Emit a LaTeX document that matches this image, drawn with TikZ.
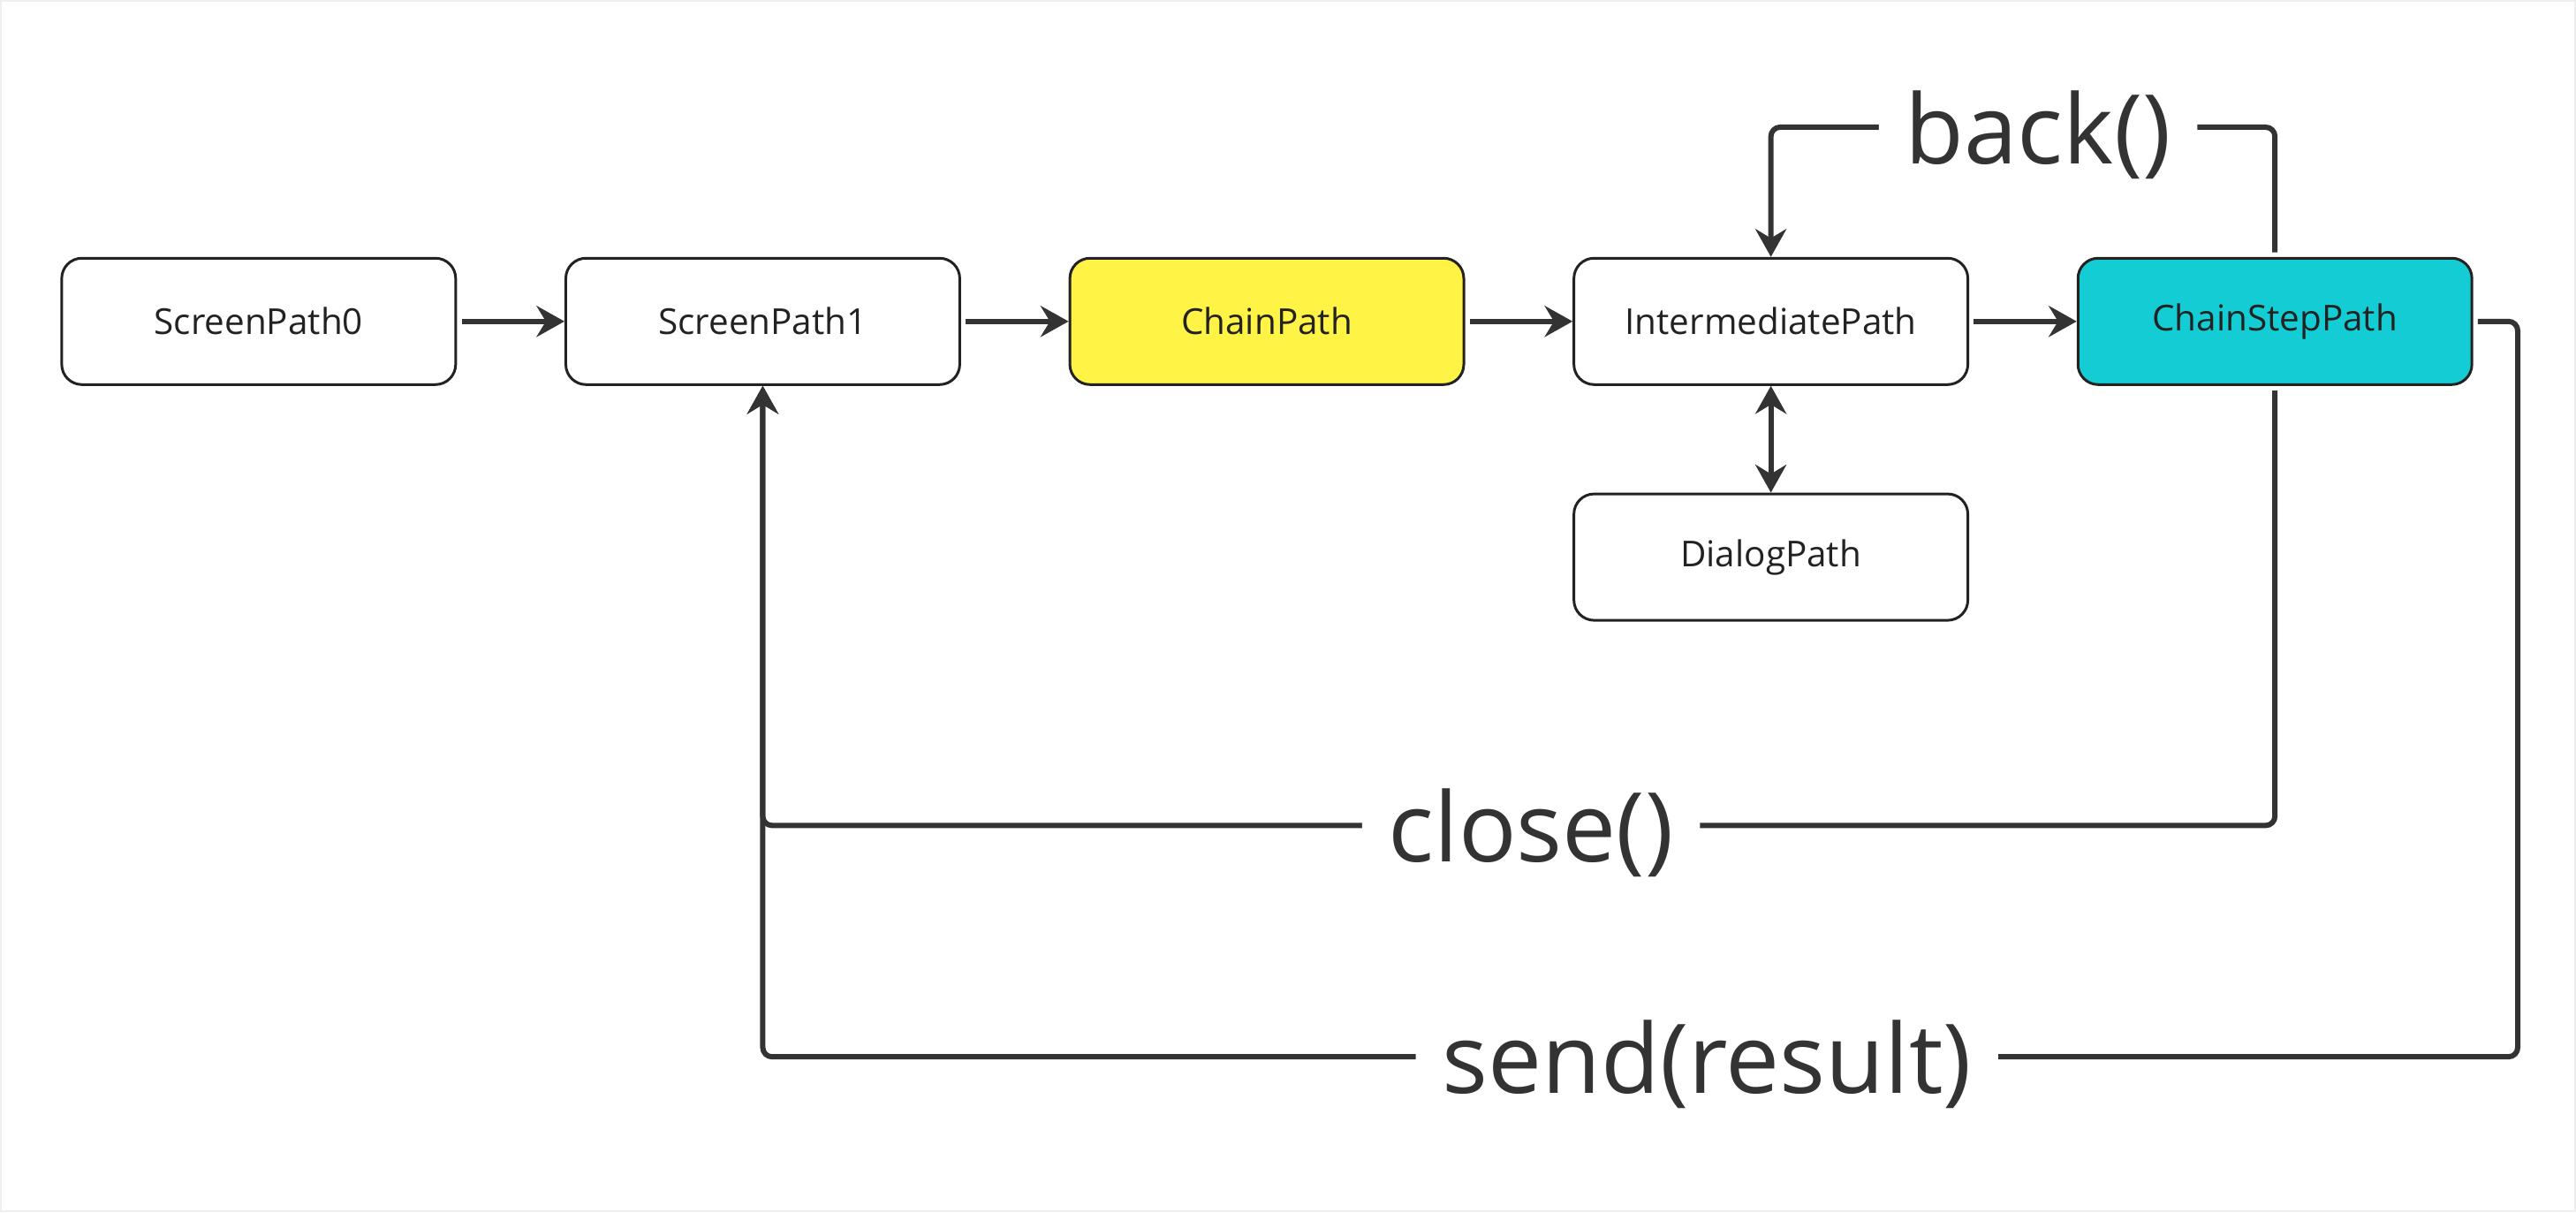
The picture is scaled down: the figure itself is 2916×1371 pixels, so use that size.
\documentclass[tikz,border=0pt]{standalone}
\usepackage{fontspec}
\setmainfont{Open Sans}
\usetikzlibrary{arrows.meta}
\definecolor{linec}{HTML}{333333}
\definecolor{boxline}{HTML}{222222}
\definecolor{yel}{HTML}{FFF445}
\definecolor{cyn}{HTML}{14CDD4}
\definecolor{framec}{HTML}{EEEEEE}
\begin{document}
\begin{tikzpicture}[x=0.01cm,y=-0.01cm,
  box/.style={draw=boxline, line width=0.85pt, rounded corners=6.5pt, fill=white,
    minimum width=126.9pt, minimum height=40.7pt, inner sep=0pt,
    font=\fontsize{11.5}{13}\selectfont, text=boxline},
  conn/.style={draw=linec, line width=1.7pt, -{Stealth[length=9pt,width=10pt,inset=3pt]},
    rounded corners=3pt, shorten <=1.5pt},
  lbl/.style={fill=white, text=linec, font=\fontsize{31}{37}\selectfont,
    inner xsep=8.5pt, inner ysep=0pt, yshift=-2.5pt}]
\path[use as bounding box, draw=framec, line width=0.6pt] (0,0) rectangle (2916,1371);

\node[box] (s0) at (292,363) {ScreenPath0};
\node[box] (s1) at (863,363) {ScreenPath1};
\node[box, fill=yel] (cp) at (1434,363) {ChainPath};
\node[box] (ip) at (2005,363) {IntermediatePath};
\node[box, fill=cyn] (csp) at (2576,363) {ChainStepPath};
\node[box] (dp) at (2005,630) {DialogPath};

\coordinate (backy) at (0,143);
\coordinate (closey) at (0,934);
\coordinate (sendy) at (0,1196);
\coordinate (sendx) at (2851,0);

\draw[conn] (s0) -- (s1);
\draw[conn] (s1) -- (cp);
\draw[conn] (cp) -- (ip);
\draw[conn] (ip) -- (csp);
\draw[conn, {Stealth[length=9pt,width=10pt,inset=3pt]}-{Stealth[length=9pt,width=10pt,inset=3pt]}, shorten <=0pt] (ip) -- (dp);

\draw[conn] (csp.north) -- (csp.north |- backy)
  -- node[lbl, pos=0.47] {back()} (ip.north |- backy) -- (ip.north);

\draw[conn] (csp.south) -- (csp.south |- closey)
  -- node[lbl, pos=0.492] {close()} (s1.south |- closey) -- (s1.south);

\draw[conn] (csp.east) -- (sendx |- csp.east) -- (sendx |- sendy)
  -- node[lbl, pos=0.462] {send(result)} (s1.south |- sendy) -- (s1.south);
\end{tikzpicture}
\end{document}
